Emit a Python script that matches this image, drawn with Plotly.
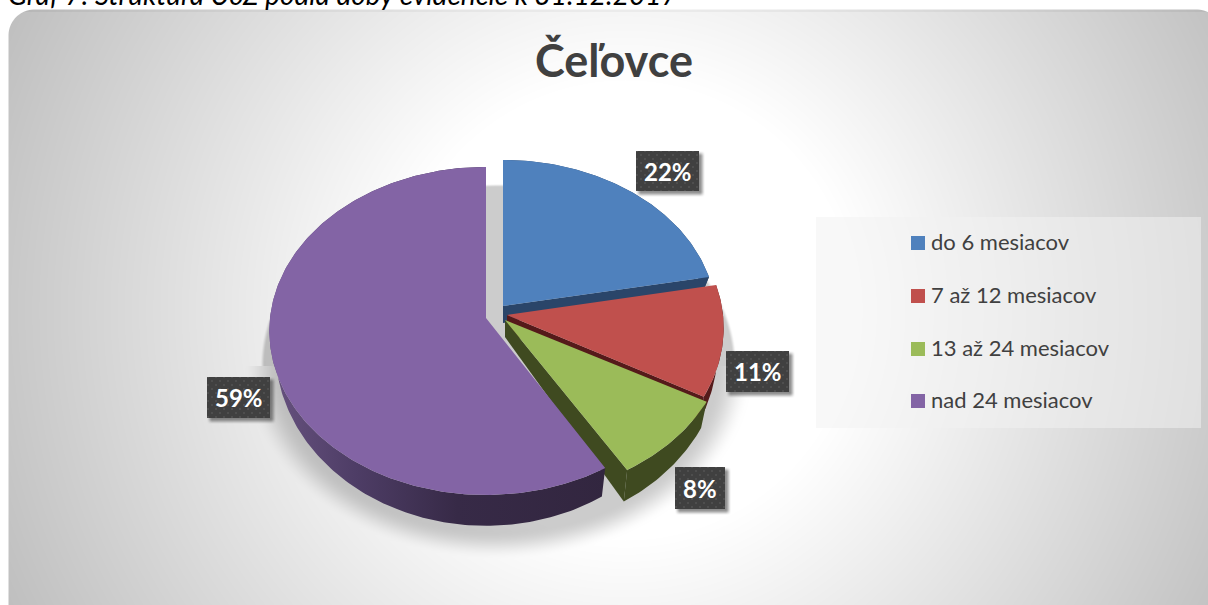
import base64, zlib, struct
import numpy as np
import plotly.graph_objects as go

# ---------- data ----------
CATEGORIES = ["do 6 mesiacov", "7 až 12 mesiacov", "13 až 24 mesiacov", "nad 24 mesiacov"]
VALUES = [22.0, 11.0, 8.4, 58.6]
TITLE = "Čeľovce"
CAPTION = "Graf 7: Štruktúra UoZ podľa doby evidencie k 31.12.2017"

# ---------- styles ----------
TOP_COLORS = ["#4f81bd", "#c0504d", "#9bbb59", "#8364a5"]
WALL_COLORS = ["#2a4569", "#551a1a", "#3f4a20", "#32263f"]
APEX = [(503, 306), (507, 315), (505, 320), (486, 318)]
YSCALE = [0.967, 1.0, 1.0, 1.0]
XSCALE = [0.985, 1.0, 1.025, 1.0]
EXTRA_DEPTH = [0, 3, 3, 0]
LABEL_BOX = [(636, 151, 699, 191), (726, 351, 789, 392), (675, 467, 725, 509), (207, 377, 270, 418)]
LEG_Y = [243, 296, 349, 401]
W, H = 1208, 605
A, B, K = 216.0, 163.0, 0.079
A2, B2, OFF = 210.0, 175.7, 17.0
FONT = "Lato"


def png_uri(rgba):
    arr = np.clip(rgba, 0, 255).astype(np.uint8)
    h, w = arr.shape[:2]
    raw = b"".join(b"\x00" + arr[r].tobytes() for r in range(h))
    def chunk(t, d):
        return struct.pack(">I", len(d)) + t + d + struct.pack(">I", zlib.crc32(t + d) & 0xffffffff)
    data = (b"\x89PNG\r\n\x1a\n" + chunk(b"IHDR", struct.pack(">IIBBBBB", w, h, 8, 6, 0, 0, 0))
            + chunk(b"IDAT", zlib.compress(raw, 9)) + chunk(b"IEND", b""))
    return "data:image/png;base64," + base64.b64encode(data).decode()


def smooth(t):
    t = np.clip(t, 0, 1)
    return t * t * (3 - 2 * t)


def background():
    yy, xx = np.mgrid[0:H, 0:W].astype(float)
    r = np.hypot(xx - 625, yy - 310)
    v = 255 - 66 * np.clip((r - 230) / 470, 0, 1)
    # chart top rim
    v = np.where(yy < 11.5, v - 10, v)
    # pie shadow on the floor
    er = np.hypot((xx - 498) / 236, (yy - 365) / 180)
    soft = np.where(yy > 365, 0.16, 0.02)
    v = v * (1 - 0.2 * smooth((1 - er) / soft + 0.5))
    # rounded chart area
    x0, y0, x1, y1, rad = 8, 9, 1222, 630, 26
    dx = np.maximum(np.maximum(x0 + rad - xx, xx - (x1 - rad)), 0)
    dy = np.maximum(np.maximum(y0 + rad - yy, yy - (y1 - rad)), 0)
    alpha = np.clip(rad - np.hypot(dx, dy) + 0.5, 0, 1) * 255
    return np.dstack([v, v, v, alpha])


def label_tile(w, h, pad=9):
    tw, th = w + pad * 2, h + pad * 2
    yy, xx = np.mgrid[0:th, 0:tw].astype(float)
    sx = smooth((xx - pad + 1) / 6) * smooth((pad + w + 6 - xx) / 6)
    sy = smooth((yy - pad + 1) / 6) * smooth((pad + h + 6 - yy) / 6)
    sa = 0.55 * sx * sy
    inside = (xx >= pad) & (xx < pad + w) & (yy >= pad) & (yy < pad + h)
    dots = (((xx - pad - 4) % 8 < 2) & ((yy - pad - 3) % 8 < 2)) | (((xx - pad) % 8 < 2) & ((yy - pad + 1) % 8 < 2))
    col = np.where(dots, 0x4e, 0x40)
    v = np.where(inside, col, 0x30)
    a = np.where(inside, 255, sa * 255)
    return np.dstack([v, v, v, a])


def project(theta, bottom=False):
    X, Z = np.sin(theta), np.cos(theta)
    den = 1 + K * Z
    if bottom:
        return A2 * X / den, -B2 * Z / den + OFF
    return A * X / den, -B * Z / den


fig = go.Figure()
shapes = [dict(type="rect", xref="x", yref="y", x0=816, x1=1201, y0=217, y1=428,
               fillcolor="rgba(241,241,241,0.53)", line_width=0, layer="below")]
images = [dict(source=png_uri(background()), xref="paper", yref="paper", x=0, y=1, sizex=1, sizey=1,
               xanchor="left", yanchor="top", sizing="stretch", layer="below")]

total = sum(VALUES)
edges = np.cumsum([0] + VALUES) / total * 2 * np.pi


def poly(xs, ys, color, name, **kw):
    fig.add_trace(go.Scatter(x=xs, y=ys, mode="lines", fill="toself", fillcolor=color,
                             line=dict(width=0, color=color), showlegend=False,
                             name=name, hoverinfo="skip", **kw))


for i, (cat, val) in enumerate(zip(CATEGORIES, VALUES)):
    t1, t2 = edges[i], edges[i + 1]
    th = np.linspace(t1, t2, max(12, int(val * 4)))
    ax, ay = APEX[i]
    tx, ty = project(th)
    bx, by = project(th, True)
    tx, ty = tx * XSCALE[i] + ax, ty * YSCALE[i] + ay
    bx, by = bx * XSCALE[i] + ax, by * YSCALE[i] + ay + EXTRA_DEPTH[i]
    wall = WALL_COLORS[i]
    # radial wall at the trailing edge
    if i < len(VALUES) - 1:
        poly([ax, tx[-1], bx[-1], ax, ax], [ay, ty[-1], by[-1], ay + OFF, ay], wall, cat + " wall")
    # outer wall
    wx = np.r_[tx, bx[::-1], tx[0]]
    wy = np.r_[ty, by[::-1], ty[0]]
    if i == len(VALUES) - 1:
        poly(wx, wy, wall, cat + " outer wall",
             fillgradient=dict(type="horizontal", start=270, stop=610,
                               colorscale=[[0, "#67527f"], [0.25, "#4e3d66"], [0.55, "#372a47"], [1, "#32263f"]]))
    else:
        poly(wx, wy, wall, cat + " outer wall")
    # top face
    poly(np.r_[ax, tx, ax], np.r_[ay, ty, ay], TOP_COLORS[i], cat)

# legend swatches
fig.add_trace(go.Scatter(x=[918] * len(CATEGORIES), y=LEG_Y, mode="markers", showlegend=False,
                         hoverinfo="skip",
                         marker=dict(symbol="square", size=14, color=TOP_COLORS, line_width=0)))

annotations = [
    dict(text=f"<b>{TITLE}</b>", x=614, y=60, xref="x", yref="y", showarrow=False,
         font=dict(family=FONT, size=45, color="#404040"), xanchor="center", yanchor="middle"),
    dict(text=f"<i>{CAPTION}</i>", x=0.0, y=1.0, xref="paper", yref="paper", showarrow=False,
         yshift=-13, xshift=6,
         font=dict(family=FONT, size=28, color="#000000"), xanchor="left", yanchor="bottom"),
]
for cat, y in zip(CATEGORIES, LEG_Y):
    annotations.append(dict(text=cat, x=929, y=y - 2, xref="x", yref="y", showarrow=False, xanchor="left",
                            yanchor="middle", font=dict(family=FONT, size=22, color="#404040")))
for val, (x0, y0, x1, y1) in zip(VALUES, LABEL_BOX):
    w, h = x1 - x0, y1 - y0
    images.append(dict(source=png_uri(label_tile(w, h)), xref="x", yref="y", x=x0 - 9, y=y0 - 9,
                       sizex=w + 18, sizey=h + 18, xanchor="left", yanchor="top", sizing="stretch",
                       layer="above"))
    annotations.append(dict(text=f"<b>{round(val)}%</b>", x=(x0 + x1) / 2, y=(y0 + y1) / 2, xref="x", yref="y",
                            showarrow=False, xanchor="center", yanchor="middle",
                            font=dict(family=FONT, size=24, color="#ffffff")))

fig.update_layout(
    width=W, height=H, margin=dict(l=0, r=0, t=0, b=0), paper_bgcolor="#ffffff", plot_bgcolor="rgba(0,0,0,0)",
    xaxis=dict(range=[0, W], visible=False, fixedrange=True),
    yaxis=dict(range=[H, 0], visible=False, fixedrange=True),
    showlegend=False, shapes=shapes, images=images, annotations=annotations,
)
fig.write_html("out.html", post_script="document.body.style.margin='0';document.body.style.overflow='hidden';",
               config=dict(displayModeBar=False))
